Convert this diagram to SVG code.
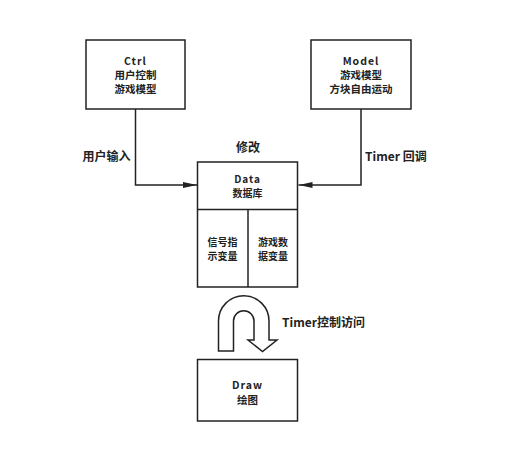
<svg xmlns="http://www.w3.org/2000/svg" width="516" height="474" viewBox="0 0 516 474">
<style>
.box{fill:#fff;stroke:#222;stroke-width:1.5}
.t{font-family:"Noto Sans CJK SC","Liberation Sans",sans-serif;font-weight:700;fill:#222;text-anchor:middle;font-size:10.5px}
.s{font-size:10px}
.lbl{font-family:"Noto Sans CJK SC","Liberation Sans",sans-serif;font-weight:700;fill:#222;font-size:12px}
.en{letter-spacing:1px}
.conn{fill:none;stroke:#222;stroke-width:1.5}
</style>
<defs>
<marker id="arr" viewBox="0 0 14 6" refX="14" refY="3" markerWidth="14" markerHeight="6" markerUnits="userSpaceOnUse" orient="auto">
<path d="M0,0 L14,3 L0,6 Z" fill="#222"/>
</marker>
</defs>
<rect width="516" height="474" fill="#fff"/>
<g id="connectors">
<path class="conn" d="M135.5,109 V185 H197" marker-end="url(#arr)"/>
<path class="conn" d="M361,109 V185 H298.5" marker-end="url(#arr)"/>
<path id="uarrow" d="M218.5,351 V321 A25.25,25.25 0 0 1 269,321 V340 H277 L262.5,351.5 L248,340 H254 V321 A10.25,10.25 0 0 0 233.5,321 V351 Z" fill="#fff" stroke="#222" stroke-width="1.5" stroke-linejoin="miter"/>
</g>
<g id="ctrl">
<rect class="box" x="86" y="40" width="99" height="69"/>
<text class="t en" x="135.5" y="65">Ctrl</text>
<text class="t" x="135.5" y="79">用户控制</text>
<text class="t" x="135.5" y="92.5">游戏模型</text>
</g>
<g id="model">
<rect class="box" x="311" y="40" width="100" height="69"/>
<text class="t en" x="361" y="65">Model</text>
<text class="t" x="361" y="79">游戏模型</text>
<text class="t" x="361" y="92.5">方块自由运动</text>
</g>
<g id="data">
<rect class="box" x="197.5" y="162" width="100" height="125"/>
<line class="conn" x1="197.5" y1="209.5" x2="297.5" y2="209.5"/>
<line class="conn" x1="248" y1="209.5" x2="248" y2="287"/>
<text class="t s en" x="247.5" y="183">Data</text>
<text class="t s" x="247.5" y="197">数据库</text>
<text class="t s" x="222.5" y="246">信号指</text>
<text class="t s" x="222.5" y="260">示变量</text>
<text class="t s" x="273" y="246">游戏数</text>
<text class="t s" x="273" y="260">据变量</text>
</g>
<g id="draw">
<rect class="box" x="197.5" y="359.5" width="100" height="61.5"/>
<text class="t en" x="247.5" y="388.5">Draw</text>
<text class="t" x="247.5" y="404">绘图</text>
</g>
<g id="labels">
<text class="lbl" x="106.5" y="161" text-anchor="middle">用户输入</text>
<text class="lbl" x="248" y="152" text-anchor="middle">修改</text>
<text class="lbl" x="365" y="161">Timer 回调</text>
<text class="lbl" x="282" y="327">Timer控制访问</text>
</g>
</svg>
